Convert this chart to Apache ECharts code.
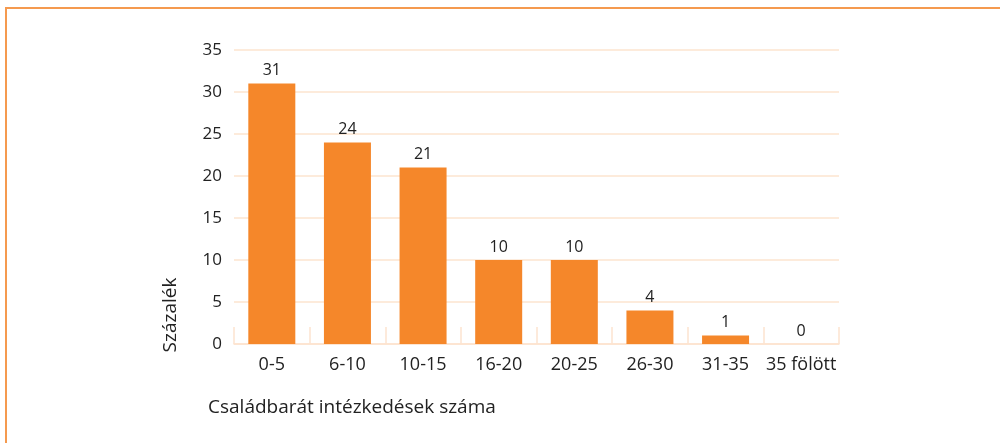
<!DOCTYPE html>
<html>
<head>
<meta charset="utf-8">
<style>
  html, body { margin: 0; padding: 0; background: #fff; }
  #frame {
    position: absolute; left: 5px; top: 7px; width: 1000px; height: 443px;
    border-top: 2px solid #f59a4f; border-left: 2px solid #f59a4f;
    box-sizing: border-box;
  }
  #chart { position: absolute; left: 0; top: 0; width: 1000px; height: 443px; }
</style>
<script src="https://cdn.jsdelivr.net/npm/echarts@6/dist/echarts.min.js"></script>
</head>
<body>
<div id="frame"></div>
<div id="chart"></div>
<script>
// Number of family-friendly measures per firm, share of respondents (%)
const categories = ['0-5', '6-10', '10-15', '16-20', '20-25', '26-30', '31-35', '35 fölött'];
const shares = [31, 24, 21, 10, 10, 4, 1, 0];
const yTicks = { min: 0, max: 35, step: 5 };
const yTitle = 'Százalék';
const xTitle = 'Családbarát intézkedések száma';

const font = '"Open Sans", Lato, sans-serif';
const textColor = '#222';
const lineColor = '#fde4cf';
const barColor = '#f5872a';

const chart = echarts.init(document.getElementById('chart'), null, { renderer: 'canvas' });
chart.setOption({
  animation: false,
  grid: { left: 234, right: 161, top: 50, bottom: 99, containLabel: false },
  xAxis: {
    type: 'category',
    data: categories,
    axisLine: { show: true, lineStyle: { color: lineColor, width: 1.5 } },
    axisTick: { show: true, inside: true, length: 17, alignWithLabel: false, lineStyle: { color: lineColor, width: 1.5 } },
    axisLabel: { interval: 0, color: textColor, fontFamily: font, fontSize: 18, margin: 12 }
  },
  yAxis: {
    type: 'value',
    min: yTicks.min, max: yTicks.max, interval: yTicks.step,
    axisLine: { show: false },
    axisTick: { show: false },
    splitLine: { lineStyle: { color: lineColor, width: 1.5 } },
    axisLabel: { color: textColor, fontFamily: font, fontSize: 17, margin: 12 }
  },
  series: [{
    type: 'bar',
    data: shares,
    barWidth: 47,
    itemStyle: { color: barColor },
    label: {
      show: true, position: 'top', distance: 5,
      color: textColor, fontFamily: font, fontSize: 16
    }
  }],
  graphic: [
    {
      type: 'text', x: 171, y: 315, rotation: Math.PI / 2,
      style: { text: yTitle, fill: textColor, font: '19px ' + font, textAlign: 'center', textVerticalAlign: 'middle' }
    },
    {
      type: 'text', x: 208, y: 408,
      style: { text: xTitle, fill: textColor, font: '19px ' + font, textAlign: 'left', textVerticalAlign: 'middle' }
    }
  ]
});
</script>
</body>
</html>
